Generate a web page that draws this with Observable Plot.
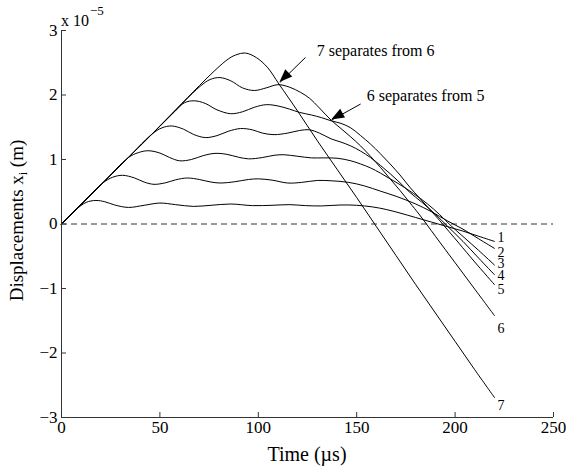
<!DOCTYPE html>
<html>
<head>
<meta charset="utf-8">
<script src="https://cdn.jsdelivr.net/npm/d3@7"></script>
<script src="https://cdn.jsdelivr.net/npm/@observablehq/plot@0.6"></script>
<style>
  body { margin: 0; background: #fff; }
  #chart { width: 566px; height: 470px; }
  #chart svg, #chart svg text { font-family: "Liberation Serif", "Times New Roman", Times, serif !important; }
</style>
</head>
<body>
<div id="chart"></div>
<script>
const FONT = '"Liberation Serif", "Times New Roman", Times, serif';

// ---- curve data (time in µs, displacement in 1e-5 m) ----
const t1 = [0,4,7.5,12.5,17.5,22,27,34,42,50,58,67,76,86,97,107,116,124,132,142,150,158,165,172,180,188,196,204,212,220];
const v1 = [0,0.121,0.227,0.335,0.365,0.345,0.295,0.257,0.29,0.325,0.30,0.273,0.29,0.31,0.285,0.29,0.30,0.285,0.28,0.295,0.29,0.265,0.225,0.17,0.10,0.03,-0.04,-0.11,-0.19,-0.27];

const t2 = [0,10,21,26,31,37,42,47,53,58,64,70,76,81,88,95,100,107,115,122,130,137,146,154,162,170,180,188,196,204,212,220];
const v2 = [0,0.303,0.636,0.725,0.755,0.715,0.65,0.615,0.64,0.685,0.713,0.69,0.65,0.635,0.655,0.69,0.70,0.68,0.635,0.645,0.675,0.67,0.645,0.59,0.51,0.43,0.31,0.19,0.05,-0.08,-0.23,-0.378];

const t3 = [0,20,34,39,44,50,55,60,66,72,78,84,90,95,102,108,113,120,127,133,140,147,152,157,162,167,172,179,186,192,198,205,212,220];
const v3 = [0,0.606,1.03,1.106,1.136,1.10,1.03,0.98,1.0,1.06,1.095,1.08,1.035,1.01,1.03,1.065,1.074,1.05,1.025,1.025,1.02,0.98,0.93,0.87,0.79,0.70,0.61,0.47,0.31,0.15,-0.03,-0.22,-0.41,-0.636];

const t4 = [0,30,46,51,56,62,67,73,79,85,91,97,102,108,115,121,126,131,137,142,147,152,157,162,167,172,177,183,190,196,204,212,220];
const v4 = [0,0.909,1.394,1.49,1.52,1.47,1.39,1.34,1.37,1.44,1.48,1.46,1.41,1.385,1.41,1.45,1.46,1.41,1.32,1.27,1.21,1.13,1.03,0.91,0.78,0.64,0.49,0.34,0.15,-0.03,-0.27,-0.53,-0.786];

const t5 = [0,40,57.5,62.5,67.5,73,79,86,92,98,104,110,116,121,127,132,137,142,147,152,157,162,167,172,177,182,187,192,197,202,210,220];
const v5 = [0,1.212,1.742,1.88,1.91,1.87,1.77,1.71,1.74,1.81,1.85,1.83,1.78,1.73,1.69,1.65,1.60,1.56,1.49,1.37,1.24,1.09,0.93,0.76,0.57,0.40,0.23,0.06,-0.12,-0.30,-0.59,-0.94];

const t6 = [0,50,70.5,75.5,80.5,86,92,98,104,110,116,121.5,126,131,137,142,147,152,157,162,167,172,177,182,190,200,210,220];
const v6 = [0,1.515,2.136,2.24,2.27,2.22,2.11,2.07,2.11,2.16,2.12,2.04,1.95,1.80,1.61,1.48,1.35,1.21,1.05,0.88,0.70,0.52,0.33,0.14,-0.19,-0.60,-1.01,-1.42];

const t7 = [0,40,83.5,88.5,93.5,99,104.6,110.5,120,130,140,150,160,170,180,190,200,210,220];
const v7 = [0,1.212,2.53,2.62,2.65,2.58,2.43,2.17,1.75,1.29,0.85,0.41,-0.04,-0.49,-0.94,-1.38,-1.82,-2.26,-2.69];

// ---- series end labels ----
const seriesNames = ["1","2","3","4","5","6","7"];
const labelT = [221.5,221.5,221.5,221.5,221.5,221.5,221.5];
const labelV = [-0.21,-0.44,-0.62,-0.80,-1.01,-1.62,-2.82];

// ---- annotations ----
const noteText = ["7 separates from 6","6 separates from 5"];
const noteT = [129.7,155.1];
const noteV = [2.69,1.99];
const arrowTailT = [124.0,152.0];
const arrowTailV = [2.583,1.860];
const arrowTipT = [111.0,137.3];
const arrowTipV = [2.195,1.612];

// ---- ticks ----
const xTicks = [0,50,100,150,200,250];
const yTicks = [-3,-2,-1,0,1,2,3];

const series = [[t1,v1],[t2,v2],[t3,v3],[t4,v4],[t5,v5],[t6,v6],[t7,v7]];
const rows = series.flatMap(([t, v], i) => t.map((tt, j) => ({s: seriesNames[i], t: tt, v: v[j]})));
const labelRows = seriesNames.map((s, i) => ({s, t: labelT[i], v: labelV[i]}));
const noteRows = noteText.map((s, i) => ({s, t: noteT[i], v: noteV[i]}));
const arrowRows = arrowTailT.map((_, i) => ({t0: arrowTailT[i], v0: arrowTailV[i], t1: arrowTipT[i], v1: arrowTipV[i]}));

const fmtTick = d => (d < 0 ? "\u2212" : "") + Math.abs(d);

function arrowHeads(index, scales) {
  const g = d3.create("svg:g");
  arrowRows.forEach(a => {
    const x0 = scales.x(a.t0), y0 = scales.y(a.v0);
    const x1 = scales.x(a.t1), y1 = scales.y(a.v1);
    const dx = x1 - x0, dy = y1 - y0, L = Math.hypot(dx, dy);
    const ux = dx / L, uy = dy / L, len = 13, hw = 5;
    const bx = x1 - ux * len, by = y1 - uy * len;
    g.append("path")
      .attr("d", `M${x1},${y1}L${bx - uy * hw},${by + ux * hw}L${bx + uy * hw},${by - ux * hw}Z`)
      .attr("fill", "black");
  });
  return g.node();
}

function yLabel(index, scales, values, dims) {
  const g = d3.create("svg:g");
  const cy = (dims.marginTop + dims.height - dims.marginBottom) / 2 - 3;
  const t = g.append("text")
    .attr("transform", `translate(23,${cy}) rotate(-90)`)
    .attr("text-anchor", "middle")
    .attr("font-family", FONT)
    .attr("font-size", 19)
    .attr("fill", "black");
  t.append("tspan").text("Displacements x");
  t.append("tspan").attr("font-size", 12).attr("dy", 4).text("i");
  t.append("tspan").attr("dy", -4).text(" (m)");
  return g.node();
}

function xLabel(index, scales, values, dims) {
  const g = d3.create("svg:g");
  const cx = (dims.marginLeft + dims.width - dims.marginRight) / 2;
  g.append("text")
    .attr("x", cx).attr("y", dims.height - 9)
    .attr("text-anchor", "middle")
    .attr("font-family", FONT)
    .attr("font-size", 20)
    .attr("fill", "black")
    .text("Time (µs)");
  return g.node();
}

function exponent(index, scales, values, dims) {
  const g = d3.create("svg:g");
  const t = g.append("text")
    .attr("x", dims.marginLeft).attr("y", dims.marginTop - 4)
    .attr("text-anchor", "start")
    .attr("font-family", FONT)
    .attr("font-size", 16)
    .attr("fill", "black");
  t.append("tspan").text("x 10");
  t.append("tspan").attr("font-size", 13).attr("dx", 1).attr("dy", -11).text("\u22125");
  return g.node();
}

const chart = Plot.plot({
  width: 566,
  height: 470,
  marginLeft: 61,
  marginRight: 13,
  marginTop: 30,
  marginBottom: 53,
  style: {fontFamily: FONT, fontSize: "17px", background: "white", color: "black"},
  x: {domain: [0, 250]},
  y: {domain: [-3, 3]},
  marks: [
    Plot.ruleY([0], {stroke: "black", strokeWidth: 0.8, strokeDasharray: "6,4"}),
    Plot.line(rows, {x: "t", y: "v", z: "s", curve: "catmull-rom", stroke: "black", strokeWidth: 1}),
    Plot.axisX({ticks: xTicks, tickSize: -5, tickPadding: 8, tickFormat: fmtTick, label: null, fontSize: 17, fontFamily: FONT, stroke: "#333", fill: "black"}),
    Plot.axisY({ticks: yTicks, tickSize: -5, tickPadding: 9, tickFormat: fmtTick, label: null, fontSize: 17, fontFamily: FONT, stroke: "#333", fill: "black"}),
    Plot.ruleX([0], {stroke: "#333", strokeWidth: 1}),
    Plot.ruleY([-3], {stroke: "#333", strokeWidth: 1}),
    Plot.text(labelRows, {x: "t", y: "v", text: "s", textAnchor: "start", lineAnchor: "middle", fontSize: 14, fontFamily: FONT, fill: "black"}),
    Plot.text(noteRows, {x: "t", y: "v", text: "s", textAnchor: "start", lineAnchor: "middle", fontSize: 16, fontFamily: FONT, fill: "black"}),
    Plot.link(arrowRows, {x1: "t0", y1: "v0", x2: "t1", y2: "v1", stroke: "black", strokeWidth: 1}),
    arrowHeads,
    yLabel,
    xLabel,
    exponent
  ]
});
document.getElementById("chart").appendChild(chart);
</script>
</body>
</html>
